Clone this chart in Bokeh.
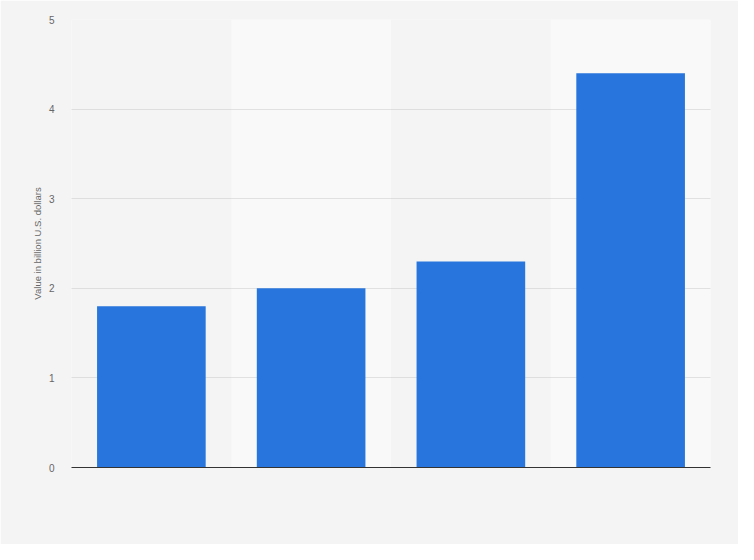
from bokeh.plotting import figure
from bokeh.models import FactorRange, Range1d, FixedTicker
from bokeh.embed import file_html
from bokeh.resources import INLINE

# categories have no visible labels in the chart
categories = ["1", "2", "3", "4"]
values = [1.8, 2.0, 2.3, 4.4]
y_ticks = [0, 1, 2, 3, 4, 5]
band_categories = categories[1::2]

BG = "#f4f4f4"
BAND = "#f9f9f9"
BAR = "#2876dd"
FONT = "Liberation Sans"

p = figure(
    width=738,
    height=544,
    x_range=FactorRange(factors=categories, range_padding=0),
    y_range=Range1d(0, 5),
    output_backend="svg",
    toolbar_location=None,
    tools="",
    min_border_left=71,
    min_border_right=28,
    min_border_top=19,
    min_border_bottom=77,
)
p.background_fill_color = BG
p.border_fill_color = BG
p.outline_line_color = None

# alternating lighter column bands, drawn beneath the grid
bands = p.vbar(x=band_categories, top=[y_ticks[-1]] * len(band_categories), width=1.0,
               fill_color=BAND, line_color=None)
bands.level = "image"

p.vbar(x=categories, top=values, width=0.68, fill_color=BAR, line_color=None)

p.xgrid.grid_line_color = None
p.ygrid.ticker = FixedTicker(ticks=y_ticks)
p.ygrid.grid_line_color = "#c8c8c8"
p.ygrid.grid_line_dash = "1 1"
p.ygrid.grid_line_width = 1

p.yaxis.ticker = FixedTicker(ticks=y_ticks)
p.yaxis.axis_line_color = None
p.yaxis.major_tick_line_color = None
p.yaxis.minor_tick_line_color = None
p.yaxis.major_label_text_font = FONT
p.yaxis.major_label_text_font_size = "10px"
p.yaxis.major_label_text_color = "#666666"
p.yaxis.major_label_standoff = 11
p.yaxis.axis_label = "Value in billion U.S. dollars"
p.yaxis.axis_label_text_font = FONT
p.yaxis.axis_label_text_font_size = "9.5px"
p.yaxis.axis_label_text_font_style = "normal"
p.yaxis.axis_label_text_color = "#666666"
p.yaxis.axis_label_standoff = 3

p.xaxis.axis_line_color = "#333333"
p.xaxis.axis_line_width = 1.2
p.xaxis.major_tick_line_color = None
p.xaxis.minor_tick_line_color = None
p.xaxis.major_label_text_color = None

open("out.html", "w").write(file_html(p, INLINE))
